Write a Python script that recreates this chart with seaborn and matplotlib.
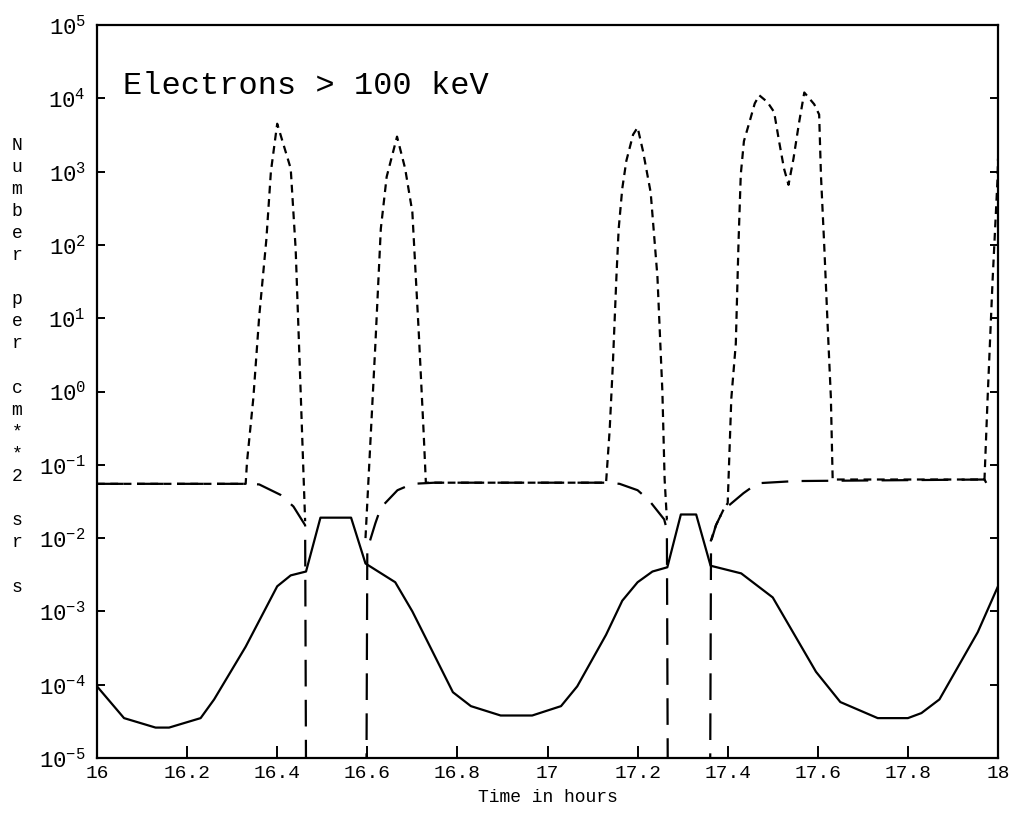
import matplotlib
matplotlib.use("Agg")
import matplotlib.pyplot as plt
import numpy as np
import pandas as pd
import seaborn as sns
from matplotlib.ticker import FixedLocator, FixedFormatter

# ---------------- data ----------------
solid_t = [16.0, 16.06, 16.13, 16.16, 16.23, 16.26, 16.33, 16.40, 16.43, 16.464,
           16.496, 16.564, 16.596, 16.662, 16.70, 16.73, 16.79, 16.83, 16.896, 16.966,
           17.03, 17.066, 17.13, 17.166, 17.20, 17.233, 17.266, 17.296, 17.33, 17.362,
           17.43, 17.50, 17.596, 17.65, 17.733, 17.80, 17.83, 17.87, 17.955, 18.0]
solid_v = [9.5e-5, 3.5e-5, 2.6e-5, 2.6e-5, 3.5e-5, 6.3e-5, 3.3e-4, 2.2e-3, 3.1e-3, 3.5e-3,
           1.9e-2, 1.9e-2, 4.5e-3, 2.5e-3, 1.0e-3, 4.3e-4, 7.9e-5, 5.1e-5, 3.8e-5, 3.8e-5,
           5.1e-5, 9.5e-5, 4.8e-4, 1.4e-3, 2.5e-3, 3.5e-3, 4.0e-3, 2.1e-2, 2.1e-2, 4.2e-3,
           3.3e-3, 1.55e-3, 1.5e-4, 5.8e-5, 3.5e-5, 3.5e-5, 4.1e-5, 6.3e-5, 5.2e-4, 2.2e-3]

dashed_t = [16.0, 16.33, 16.36, 16.407, 16.436, 16.462, 16.465, 16.597, 16.6, 16.618,
            16.63, 16.667, 16.70, 16.75, 17.13, 17.16, 17.20, 17.225, 17.259, 17.265,
            17.268, 17.360, 17.363, 17.374, 17.39, 17.435, 17.466, 17.55, 17.97, 17.975]
dashed_v = [0.055, 0.055, 0.054, 0.039, 0.027, 0.015, 1e-7, 1e-7, 0.007, 0.016,
            0.026, 0.045, 0.055, 0.057, 0.057, 0.055, 0.045, 0.033, 0.018, 0.013,
            1e-7, 1e-7, 0.009, 0.015, 0.024, 0.041, 0.056, 0.06, 0.063, 0.055]

dotted_seg = [0] * 12 + [1] * 28 + [2] * 35
dotted_t = [16.0, 16.33, 16.333, 16.347, 16.36, 16.376, 16.386, 16.40, 16.43, 16.441,
            16.45, 16.462,
            16.596, 16.618, 16.63, 16.643, 16.666, 16.684, 16.70, 16.714, 16.725, 16.73,
            17.13, 17.138, 17.145, 17.153, 17.158, 17.166, 17.175, 17.19, 17.2, 17.212,
            17.229, 17.244, 17.255, 17.26, 17.265, 17.2655, 17.266, 17.2665,
            17.362, 17.374, 17.39, 17.40, 17.408, 17.418, 17.424, 17.429, 17.436, 17.449,
            17.46, 17.47, 17.488, 17.503, 17.514, 17.525, 17.535, 17.546, 17.558, 17.57,
            17.592, 17.603, 17.607, 17.614, 17.622, 17.629, 17.633, 17.97, 17.977, 17.988,
            17.999, 18.0, 18.0, 18.0, 18.0]
dotted_v = [0.055, 0.055, 0.11, 0.81, 10.5, 120, 1000, 4500, 1100, 87,
            2.3, 0.017,
            0.01, 4.5, 166, 850, 3000, 1100, 280, 6.8, 0.28, 0.057,
            0.057, 0.3, 2.3, 37, 166, 590, 1400, 3200, 4000, 1900,
            520, 37, 1.0, 0.063, 0.018, 0.018, 0.018, 0.018,
            0.009, 0.015, 0.024, 0.03, 0.8, 4.5, 107, 910, 2600, 4900,
            8500, 11000, 8900, 6500, 2600, 1100, 660, 1500, 4500, 12000,
            8300, 6000, 890, 107, 7.6, 0.83, 0.063, 0.063, 0.83, 33,
            800, 1500, 1500, 1500, 1500]

x_ticks = [16, 16.2, 16.4, 16.6, 16.8, 17, 17.2, 17.4, 17.6, 17.8, 18]
x_tick_labels = ["16", "16.2", "16.4", "16.6", "16.8", "17", "17.2", "17.4", "17.6", "17.8", "18"]
y_ticks = [1e-5, 1e-4, 1e-3, 1e-2, 1e-1, 1e0, 1e1, 1e2, 1e3, 1e4, 1e5]
y_tick_labels = [r"$10^{-5}$", r"$10^{-4}$", r"$10^{-3}$", r"$10^{-2}$", r"$10^{-1}$",
                 r"$10^{0}$", r"$10^{1}$", r"$10^{2}$", r"$10^{3}$", r"$10^{4}$", r"$10^{5}$"]
ylabel_chars = ["N", "u", "m", "b", "e", "r", "", "p", "e", "r", "", "c", "m", "*", "*",
                "2", "", "s", "r", "", "s"]
title_text = "Electrons > 100 keV"
xlabel_text = "Time in hours"

# ---------------- style ----------------
sns.set_theme(style="white")
plt.rcParams.update({
    "font.family": ["Liberation Mono", "DejaVu Sans"],
    "mathtext.fontset": "custom",
    "mathtext.rm": "Liberation Mono",
    "mathtext.it": "Liberation Mono",
    "mathtext.bf": "Liberation Mono",
    "axes.edgecolor": "black",
    "xtick.color": "black",
    "ytick.color": "black",
    "text.color": "black",
    "axes.labelcolor": "black",
})

W, H = 1017, 819
fig = plt.figure(figsize=(W / 100, H / 100), dpi=100)
ax = fig.add_axes([97 / W, 1 - 758 / H, 901 / W, 733 / H])

df_solid = pd.DataFrame({"t": solid_t, "v": solid_v})
df_dash = pd.DataFrame({"t": dashed_t, "v": dashed_v})
df_dot = pd.DataFrame({"t": dotted_t, "v": dotted_v, "seg": dotted_seg})

sns.lineplot(data=df_solid, x="t", y="v", ax=ax, color="black", lw=1.6,
             sort=False, estimator=None)
sns.lineplot(data=df_dash, x="t", y="v", ax=ax, color="black", lw=1.6,
             sort=False, estimator=None, linestyle=(0, (12, 6)))
sns.lineplot(data=df_dot, x="t", y="v", units="seg", ax=ax, color="black", lw=1.6,
             sort=False, estimator=None, linestyle=(0, (3.5, 2.5)))

ax.set_yscale("log")
ax.set_xlim(16, 18)
ax.set_ylim(1e-5, 1e5)

ax.xaxis.set_major_locator(FixedLocator(x_ticks))
ax.xaxis.set_major_formatter(FixedFormatter(x_tick_labels))
ax.yaxis.set_major_locator(FixedLocator(y_ticks))
ax.yaxis.set_major_formatter(FixedFormatter(y_tick_labels))
ax.yaxis.set_minor_locator(FixedLocator([]))

ax.tick_params(axis="x", which="major", direction="in", length=9, width=1.4,
               top=False, bottom=True, labelsize=14, pad=5)
ax.tick_params(axis="y", which="major", direction="in", length=6, width=1.4,
               left=True, right=True, labelsize=16, pad=8)
for s in ax.spines.values():
    s.set_visible(True)
    s.set_linewidth(1.6)
    s.set_color("black")

ax.set_xlabel(xlabel_text, fontsize=13, labelpad=5)
ax.set_ylabel("")

ax.text(0.029, 0.906, title_text, transform=ax.transAxes, fontsize=23,
        ha="left", va="baseline")

# stacked y-axis label, one character per line
for i, ch in enumerate(ylabel_chars):
    if ch:
        ypx = 145 + 22.1 * i
        fig.text(17 / W, 1 - ypx / H, ch, fontsize=13, ha="center", va="center")

fig.savefig("out.png", dpi=100, facecolor="white")
